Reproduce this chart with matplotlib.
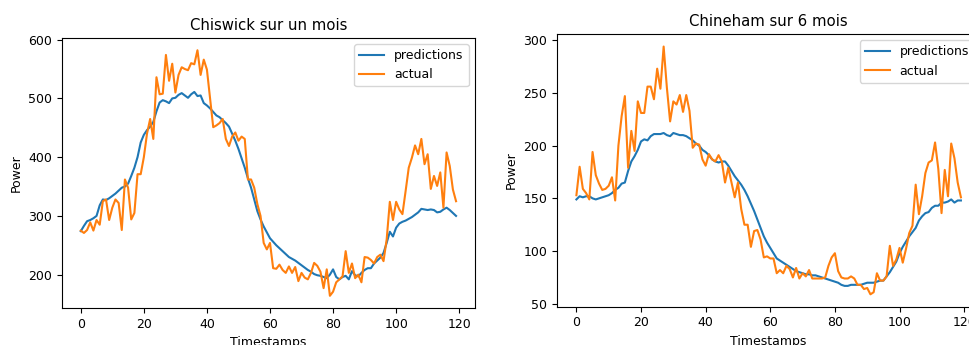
import matplotlib
matplotlib.use("Agg")
import matplotlib.pyplot as plt
import numpy as np

# Chiswick, un mois (120 pas de temps)
chiswick_predictions = [
    274, 283, 291, 293, 296, 300, 318, 328, 327, 330,
    334, 338, 343, 348, 350, 355, 368, 382, 400, 425,
    438, 446, 452, 460, 478, 493, 497, 495, 492, 500,
    501, 506, 509, 505, 501, 507, 511, 504, 505, 492,
    488, 483, 477, 471, 468, 463, 458, 452, 440, 428,
    414, 398, 382, 364, 348, 328, 308, 294, 282, 272,
    262, 256, 250, 245, 240, 235, 230, 227, 224, 220,
    216, 212, 208, 205, 201, 199, 198, 196, 194, 200,
    209, 196, 192, 196, 198, 192, 206, 199, 197, 203,
    208, 211, 211, 219, 224, 229, 237, 254, 273, 265,
    280, 287, 290, 292, 295, 298, 302, 306, 312, 311,
    310, 311, 310, 306, 307, 311, 314, 310, 305, 300,
]
chiswick_actual = [
    275, 271, 276, 289, 275, 293, 285, 325, 328, 293,
    314, 328, 322, 276, 362, 348, 294, 305, 371, 371,
    400, 440, 465, 431, 536, 507, 508, 574, 530, 559,
    510, 540, 553, 550, 548, 560, 558, 582, 540, 566,
    549, 500, 451, 454, 458, 465, 431, 419, 435, 442,
    428, 435, 431, 362, 362, 348, 320, 300, 254, 243,
    254, 211, 210, 217, 208, 203, 214, 203, 213, 189,
    203, 195, 192, 203, 220, 215, 205, 177, 209, 164,
    171, 187, 192, 197, 240, 203, 219, 194, 200, 187,
    230, 229, 225, 219, 230, 234, 223, 260, 324, 293,
    324, 311, 303, 342, 382, 399, 420, 405, 431, 388,
    405, 346, 368, 351, 374, 314, 408, 385, 345, 325,
]

# Chineham, 6 mois
chineham_predictions = [
    149, 152, 151, 152, 152, 150, 149, 150, 151, 152,
    153, 155, 158, 160, 164, 165, 176, 185, 190, 196,
    204, 206, 205, 209, 211, 211, 211, 212, 210, 209,
    212, 211, 210, 210, 209, 207, 205, 202, 200, 196,
    194, 191, 187, 185, 184, 185, 185, 181, 176, 171,
    167, 163, 158, 152, 145, 138, 130, 122, 114, 108,
    103, 98, 93, 91, 89, 87, 85, 83, 81, 80,
    79, 78, 78, 77, 77, 76, 75, 74, 73, 72,
    71, 70, 68, 67, 67, 68, 68, 68, 68, 69,
    70, 70, 70, 71, 72, 72, 76, 80, 85, 90,
    98, 104, 109, 114, 118, 122, 129, 133, 136, 137,
    141, 143, 143, 146, 146, 147, 149, 146, 148, 148,
]
chineham_actual = [
    153, 180, 159, 155, 149, 194, 172, 164, 158, 159,
    162, 170, 148, 200, 228, 247, 179, 214, 195, 242,
    231, 231, 256, 256, 244, 273, 254, 294, 255, 223,
    242, 239, 248, 232, 248, 233, 198, 202, 201, 187,
    181, 192, 187, 185, 191, 185, 165, 179, 165, 151,
    165, 140, 125, 125, 104, 119, 120, 111, 94, 95,
    93, 93, 79, 82, 79, 86, 83, 75, 84, 74,
    79, 76, 82, 74, 74, 74, 74, 75, 86, 94,
    98, 81, 75, 74, 74, 76, 74, 68, 68, 64,
    65, 59, 61, 79, 72, 72, 76, 105, 86, 92,
    103, 89, 102, 117, 124, 163, 135, 152, 174, 184,
    186, 203, 178, 136, 177, 152, 202, 188, 165, 151,
]

fig = plt.figure(figsize=(9.69, 3.45), dpi=100)

ax1 = fig.add_axes([0.064, 0.107, 0.426, 0.783])
ax1.plot(chiswick_predictions, label="predictions")
ax1.plot(chiswick_actual, label="actual")
ax1.set_title("Chiswick sur un mois", fontsize=10.7)
ax1.set_xlabel("Timestamps", fontsize=9)
ax1.set_ylabel("Power", fontsize=9)
ax1.tick_params(labelsize=9)
ax1.legend(fontsize=9, loc="upper right")

# le second graphique déborde à droite comme sur la capture
ax2 = fig.add_axes([0.575, 0.111, 0.4365, 0.79])
ax2.plot(chineham_predictions, label="predictions")
ax2.plot(chineham_actual, label="actual")
ax2.set_title("Chineham sur 6 mois", fontsize=10.7)
ax2.set_xlabel("Timestamps", fontsize=9)
ax2.set_ylabel("Power", fontsize=9)
ax2.tick_params(labelsize=9)
ax2.legend(fontsize=9, loc="upper right")

fig.savefig("out.png", dpi=100)
